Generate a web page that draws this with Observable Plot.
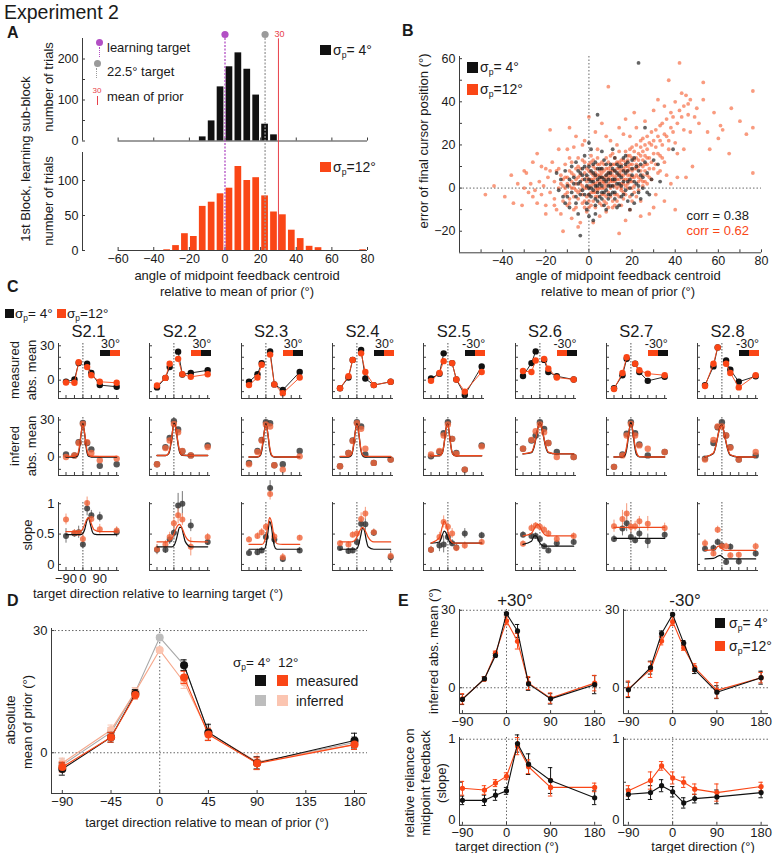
<!DOCTYPE html>
<html><head><meta charset="utf-8">
<script src="https://cdn.jsdelivr.net/npm/d3@7"></script>
<script src="https://cdn.jsdelivr.net/npm/@observablehq/plot@0.6"></script>
<style>
body{margin:0;background:#fff;}
#root{position:relative;width:773px;height:853px;overflow:hidden;font-family:"Liberation Sans",Arial,Helvetica,sans-serif;color:#1a1a1a;background:#fff;}
.lbl{position:absolute;white-space:nowrap;line-height:1;}
.lbl sub{font-size:62%;vertical-align:-0.35em;line-height:0;}
.sq{position:absolute;}
</style></head><body><div id="root"></div>
<script>
// ---------------- DATA ----------------
// Panel A: histograms (bin start, width 5)
const histBinWidth = 5;
const histBins4 = [-15,-10,-5,0,5,10,15,20,25];
const histCounts4 = [10,49,132,181,215,175,112,41,15];
const histBins12 = [-35,-30,-25,-20,-15,-10,-5,0,5,10,15,20,25,30,35,40,45,50,75];
const histCounts12 = [1,7,24,20,63,69,81,89,120,100,104,78,55,51,29,17,6,4,1];
const histTicksA = [-60,-40,-20,0,20,40,60,80];
const refTargetsA = [0, 22.5];        // learning target, 22.5 deg target
const priorMeanA = 30;

// Panel B: scatter [angle of midpoint feedback centroid, error of final cursor position]
const scatter12 = [
[-48,-3],[-44,1],[-39,-4],[-36,6],[-35,-7],[-33,2],[-31,-8],[-30,8],[-30,0],[-29,7],[-28,-2],[-27,2],[-26,12],[-26,-4],[-25,-1],[-24,16],[-24,-7],[-23,3],[-22,-3],[-22,10],[-21,1],[-20,9],[-20,-8],[-20,-12],[-19,5],[-18,27],[-18,-2],[-18,8],[-17,12],[-16,-5],[-16,3],[-16,-8],[-15,8],[-15,-10],[-14,18],[-14,0],[-14,9],[-13,-12],[-13,6],[-13,2],[-12,-20],[-12,4],[-12,-6],[-11,-3],[-11,11],[-11,0],[-10,-8],[-10,2],[-10,5],[-10,18],[-9,28],[-9,14],[-9,-5],[-9,1],[-8,7],[-8,-14],[-8,3],[-7,0],[-7,19],[-7,-4],[-6,-9],[-6,4],[-6,-1],[-6,24],[-5,10],[-5,-2],[-5,5],[-5,-18],[-4,-16],[-4,6],[-4,2],[-3,1],[-3,13],[-3,-7],[-3,20],[-2,-6],[-2,22],[-2,0],[-1,3],[-1,-11],[-1,9],[0,33],[0,8],[0,-3],[0,1],[0,-6],[1,15],[1,-8],[1,4],[1,12],[2,2],[2,10],[2,-2],[2,6],[2,-16],[3,-4],[3,5],[3,7],[3,-9],[3,26],[4,18],[4,-1],[4,3],[4,11],[5,8],[5,-13],[5,0],[5,4],[6,3],[6,12],[6,-3],[6,7],[6,30],[7,-6],[7,0],[7,3],[8,6],[8,24],[8,1],[8,-4],[8,-11],[9,47],[9,-2],[9,5],[9,9],[10,10],[10,3],[10,0],[10,6],[10,22],[11,-9],[11,16],[11,3],[11,8],[12,5],[12,-3],[12,1],[12,11],[13,9],[13,20],[13,4],[13,-6],[14,1],[14,-21],[14,7],[14,12],[14,28],[15,13],[15,6],[15,2],[15,-1],[16,-5],[16,25],[16,9],[16,4],[17,8],[17,32],[17,-3],[17,12],[17,-15],[18,2],[18,15],[18,6],[18,10],[19,-10],[19,11],[19,3],[19,15],[19,24],[20,5],[20,19],[20,8],[20,0],[21,-2],[21,9],[21,13],[21,35],[22,28],[22,14],[22,6],[22,-4],[23,3],[23,10],[23,16],[24,22],[24,-6],[24,4],[24,-13],[25,10],[25,17],[25,13],[25,3],[26,31],[26,8],[26,20],[27,6],[27,24],[27,11],[28,14],[28,-12],[29,20],[29,4],[30,36],[30,9],[30,-9],[31,27],[31,-3],[32,41],[32,16],[33,22],[33,8],[34,30],[34,14],[35,12],[35,38],[35,-6],[36,24],[36,6],[37,50],[37,18],[38,28],[38,2],[39,33],[40,21],[40,40],[40,-10],[41,5],[41,16],[42,58],[42,36],[43,44],[44,27],[44,18],[45,43],[45,5],[46,39],[47,41],[47,26],[48,10],[49,33],[50,37],[51,30],[53,49],[53,41],[55,26],[56,18],[58,35],[60,23],[61,29],[62,27],[65,16],[66,37],[70,31],[73,25],[76,45],[76,28],[76,7],
[-12,1],[-11,5],[-10,-2],[-9,8],[-9,-7],[-8,0],[-8,12],[-7,6],[-7,-10],[-6,2],[-6,9],[-5,-5],[-5,14],[-4,-1],[-4,9],[-3,4],[-3,-3],[-2,7],[-2,-9],[-2,12],[-1,0],[-1,5],[-1,-4],[0,4],[0,11],[0,-9],[1,1],[1,7],[1,-2],[2,4],[2,13],[2,-6],[3,0],[3,9],[3,2],[3,-2],[4,6],[4,-4],[4,14],[4,0],[5,2],[5,11],[5,-7],[5,6],[6,0],[6,5],[6,9],[6,-8],[7,2],[7,8],[7,-3],[7,11],[7,5],[8,4],[8,9],[8,-7],[8,14],[9,2],[9,7],[9,-9],[9,12],[10,4],[10,-4],[10,8],[10,15],[11,1],[11,6],[11,11],[11,-6],[12,3],[12,8],[12,-8],[12,14],[13,0],[13,6],[13,12],[13,-3],[14,4],[14,9],[14,-4],[14,17],[15,0],[15,8],[15,11],[15,-8],[16,2],[16,6],[16,13],[16,-2],[17,4],[17,10],[17,1],[17,17],[18,0],[18,8],[18,4],[18,13],[19,6],[19,9],[19,-4],[19,18],[20,3],[20,11],[20,14],[20,-6],[21,5],[21,1],[21,17],[22,9],[22,11],[22,20],[23,5],[23,13],[23,-1],[24,8],[24,15],[24,19],[25,6],[25,1],[25,23],[26,11],[26,15],[26,3],[27,14],[27,18],[27,2],[28,9],[28,21],[28,5],[29,12],[29,26],[30,16],[30,22],[31,11],[31,19],[32,24],[32,7],[33,29],[33,15],[34,20],[35,25],[36,32],[37,22],[38,35],[39,26],[41,30],[43,33],[44,38],[46,34]
];
const scatter4 = [
[23,58],[4,34],[0,21],[26,28],[39,18],[32,11],[27,-2],[21,-7],[-4,-22],[0,-13],[-6,-4],[-5,2],[-4,7],[-3,-1],[-2,4],[-1,-7],[0,0],[0,10],[1,3],[1,-4],[2,7],[2,-1],[3,1],[3,12],[4,-6],[4,4],[5,2],[5,9],[6,-2],[6,5],[7,13],[7,-8],[8,3],[8,-1],[9,7],[9,-5],[10,1],[10,11],[11,4],[11,-2],[12,8],[12,14],[13,-9],[13,2],[14,6],[15,-4],[15,10],[16,3],[16,14],[17,-1],[17,7],[18,12],[18,-6],[19,4],[20,9],[20,-3],[21,14],[22,2],[23,8],[24,-5],[25,5],[26,12],[-8,-2],[-7,5],[-9,-9],[-10,1],[-12,-4],[-11,8],[-14,-1],[-13,4],[-6,12],[-2,15],[3,-12],[8,-10],[14,-8],[19,-10],[24,11],[29,4],[28,-3],[-1,-10],[6,17],[11,18],[-5,-12],[2,-15],[9,-3],[13,11],[4,9],[-3,9],[1,18],[-8,10],[17,15],[23,1],[27,7],
[-7,2],[-6,-7],[-4,-3],[-4,3],[-3,6],[-2,-3],[-1,1],[-1,6],[0,-3],[0,4],[1,8],[1,0],[2,3],[2,11],[3,-5],[3,6],[4,1],[4,-2],[5,5],[5,-4],[6,1],[6,9],[7,4],[7,-2],[8,6],[8,11],[9,1],[9,4],[10,-3],[10,7],[11,9],[11,1],[12,4],[12,-5],[13,7],[14,2],[14,10],[15,5],[15,1],[16,8],[16,-3],[17,11],[18,3],[18,8],[19,0],[20,6],[21,3],[22,10],[23,-2],[24,6],[-9,4],[-10,-4],[-5,8],[-2,10],[3,-8],[6,-5],[12,-2],[20,13],[25,0],[-11,-7],[-15,7],[30,13],[33,3]
];
const corrLabels = ["corr = 0.38", "corr = 0.62"];

// Panel C: per-subject data (target directions relative to learning target)
const subjects = ["S2.1","S2.2","S2.3","S2.4","S2.5","S2.6","S2.7","S2.8"];
const subjectShift = ["30°","30°","30°","30°","-30°","-30°","-30°","-30°"];
const badgeOrder = [["k","o"],["o","k"],["o","k"],["k","o"],["k","o"],["o","k"],["o","k"],["k","o"]];
const cX = [-90,-45,-22.5,0,22.5,45,90,180];
const measured4 = [
[-1.4,0.6,15,null,14.3,6.3,-4.3,-5.7],
[-6.3,2,11.4,null,24.9,5,6.3,8.6],
[-1.4,5.1,14.9,null,25.1,-3.7,-8.6,7.1],
[-7.1,2.3,17.7,null,26.3,1.4,-4.3,-1.4],
[1.4,5.7,23.4,null,14.9,0.6,-12.9,12],
[3.7,14.9,25.1,null,17.7,7.1,3.4,0.6],
[-7.1,4.3,18.6,null,14.3,7.1,-0.6,2.9],
[-4.3,12,28.6,null,17.1,9.1,-1.4,3.4]];
const measured12 = [
[-2,-2.3,15.7,null,11.4,4.3,-1.4,-2.3],
[-4.6,2,14.3,null,18.6,5.1,2.9,5.1],
[-4.3,2.3,13.4,null,22.3,-3.7,-11.4,2.3],
[-7.1,3.4,17.7,null,23.4,7.1,-4.3,-1.4],
[-0.6,6.3,16.6,null,14.9,0.6,-10,7.1],
[8,7.1,17.1,null,18.6,10,2.3,0.6],
[-7.7,6.3,20,null,14.3,8.6,5.7,4.3],
[-5.1,14.3,28.6,null,14.3,6.3,-6.3,4.3]];
const inferred4 = [
[2.1,1.3,12,27.6,11.3,6.2,-7.2,-5.9],
[-5.9,8,15.5,29,22.3,4.6,1.3,9.4],
[-4.8,4.8,13.9,28.2,27.3,-6.7,-5.9,4.8],
[-7.5,3.2,13.4,28.2,24.7,2.1,-4.8,-2.1],
[0.5,4,19.3,28.2,14.7,3.2,-10.2,9.4],
[6.7,13.4,17.4,28.2,22.8,11.3,4,0],
[-8,2.1,18.8,28.2,19.3,10.2,1.3,4],
[-1.3,11.3,24.1,28.2,17.4,8,-2.1,1.3]];
const inferred12 = [
[0,1.3,11.3,26.8,12,3.2,-2.7,-1.3],
[-5.9,7.2,13.4,26.8,20,4.8,1.3,8],
[-5.9,4,13.4,26.3,24.7,-6.7,-10.2,0.5],
[-7.5,3.2,12.9,27.3,22.8,6.7,-4.8,-2.1],
[2.1,4.8,17.4,26.3,14.7,2.7,-10.2,8.6],
[6.7,13.9,20.9,26.3,20.1,11.3,0,0],
[-8,1.3,17.4,26.8,17.4,9.4,6.7,4],
[-2.1,13.9,24.7,24.7,17.4,7.5,-2.1,4]];
const infFitX = [-90,-45,-30,-20,-10,0,10,20,30,45,90,180];
const infFit4 = [
[0,0,0.6,5.2,17.8,27,17.8,5.2,0.6,0,0,0],
[1.2,1.2,2.3,6.8,17.5,27.3,24.2,12.5,4.3,1.4,1.2,1.2],
[0,0,1.2,6.7,19.2,27,19.2,6.7,1.2,0,0,0],
[0,0,1.2,6.7,19.2,27,19.2,6.7,1.2,0,0,0],
[1,1,3.1,10.8,23.3,26.7,15.8,5.2,1.6,1,1,1],
[2.5,3.6,8.7,16,23.9,27.5,23.9,16,8.7,3.6,2.5,2.5],
[0,0.1,1.9,8.7,20.8,28,20.8,8.7,1.9,0.1,0,0],
[0,2.9,10.4,18.2,24.4,25.7,21,13.4,6.7,1.5,0,0]];
const infFit12 = [
[0.5,0.6,1.6,6.9,18.6,26,18.6,6.9,1.6,0.6,0.5,0.5],
[1.2,1.2,2.8,7.9,18,26.4,23.9,13.6,5.2,1.5,1.2,1.2],
[0,0.1,1.8,8.1,19.3,26,19.3,8.1,1.8,0.1,0,0],
[0.5,0.5,1.9,7.6,19.1,26,19.1,7.6,1.9,0.5,0.5,0.5],
[1,1.1,3.3,11,23,26.3,15.6,5.2,1.6,1,1,1],
[2.5,4,9.6,16.5,23.8,27,23.8,16.5,9.6,4,2.5,2.5],
[0,0.3,3.6,10.9,21.2,26.5,21.2,10.9,3.6,0.3,0,0],
[0.1,3.3,10.8,18.3,24,25.3,20.8,13.6,7.2,1.8,0,0]];
const slope4 = [
[.47,.51,.53,.33,.92,.81,.78,.53],
[.24,.24,.41,.52,.97,1.0,.64,.37],
[.19,.2,.23,.45,1.26,.41,.09,.23],
[.27,.22,.23,.37,.67,.66,.52,.12],
[.24,.31,.33,.45,.35,.28,.51,.48],
[.49,.47,.47,.42,.30,.23,.35,.37],
[.42,.59,.68,.45,.40,.51,.38,.49],
[.26,.27,.37,.31,.04,.29,.05,.18]];
const slope12 = [
[.74,.52,.52,.42,1.01,.75,.58,.56],
[.25,.33,.45,.68,.81,.74,.29,.45],
[.41,.47,.53,.62,1.16,.46,.12,.44],
[.35,.33,.49,.51,.75,.84,.53,.14],
[.24,.45,.70,.62,.51,.27,.31,.37],
[.34,.60,.64,.62,.57,.51,.42,.47],
[.63,.75,.84,.62,.63,.71,.67,.60],
[.35,.18,.57,.30,.30,.15,.16,.30]];
const slopeErr4 = [
[.12,.06,.1,.06,.12,.08,.08,.08],[.08,.06,.08,.1,.2,.2,.1,.06],[.05,.05,.05,.06,.12,.08,.06,.05],[.05,.05,.05,.06,.08,.1,.06,.1],
[.05,.1,.14,.08,.06,.06,.08,.05],[.05,.05,.05,.05,.05,.04,.05,.05],[.06,.12,.14,.1,.06,.1,.12,.08],[.05,.05,.05,.05,.05,.05,.06,.06]];
const slopeErr12 = [
[.09,.05,.06,.1,.1,.06,.08,.06],[.08,.06,.08,.1,.14,.1,.15,.06],[.05,.05,.06,.06,.1,.06,.06,.04],[.04,.04,.05,.05,.1,.1,.05,.05],
[.06,.08,.1,.08,.08,.06,.06,.05],[.05,.06,.05,.06,.06,.05,.05,.05],[.1,.14,.16,.1,.08,.08,.12,.08],[.06,.05,.06,.05,.05,.04,.04,.05]];
const slopeFitX = [-90,-45,-30,-20,-10,0,10,20,30,40,50,60,90,180];
const slopeFit4 = [
[.49,.49,.49,.49,.49,.51,.58,.71,.77,.66,.54,.50,.49,.49],
[.29,.29,.29,.29,.29,.31,.38,.50,.61,.61,.50,.38,.29,.29],
[.25,.25,.25,.25,.25,.31,.51,.71,.61,.37,.27,.25,.25,.25],
[.25,.25,.25,.25,.25,.26,.33,.47,.60,.56,.40,.29,.25,.25],
[.35,.37,.48,.55,.52,.43,.37,.35,.35,.35,.35,.35,.35,.35],
[.33,.38,.47,.47,.42,.35,.32,.30,.30,.30,.30,.30,.30,.30],
[.43,.43,.43,.43,.43,.43,.43,.43,.43,.43,.43,.43,.43,.43],
[.09,.10,.12,.14,.15,.13,.10,.09,.09,.09,.09,.09,.09,.09]];
const slopeFit12 = [
[.54,.54,.54,.54,.55,.59,.66,.74,.77,.71,.63,.57,.54,.54],
[.37,.37,.38,.40,.43,.50,.58,.64,.66,.62,.55,.47,.38,.37],
[.33,.33,.33,.33,.36,.46,.63,.77,.70,.52,.39,.34,.33,.33],
[.37,.37,.37,.38,.40,.45,.52,.58,.61,.58,.52,.45,.37,.37],
[.35,.44,.62,.71,.67,.54,.43,.37,.35,.35,.35,.35,.35,.35],
[.47,.51,.59,.64,.66,.62,.56,.51,.48,.47,.47,.47,.47,.47],
[.61,.61,.61,.61,.61,.61,.61,.61,.61,.61,.61,.61,.61,.61],
[.23,.24,.27,.30,.29,.26,.24,.23,.23,.23,.23,.23,.23,.23]];
const cXTicks = [-90,-45,0,45,90,135,180];

// Panel D
const dX = [-90,-45,-22.5,0,22.5,45,90,180];
const dMeas4 = [-4,3.8,14.5,null,21.5,5,-2.5,3];
const dMeas12 = [-3.5,3.8,14.2,null,18.5,4.5,-2.6,2];
const dInf4 = [-3,5,15,28.3,21.5,5,-2.4,2.5];
const dInf12 = [-2.5,5.6,15,25.2,17.3,4.8,-2.2,2];
const dMeasErr4 = [1.5,1.2,1,null,1.3,2,1.5,1.8];
const dMeasErr12 = [1.2,1.2,1,null,1.5,1.5,1.5,1.2];
const dInfErr4 = [1.5,1.2,1,0.5,1.3,1.8,1.5,1.5];
const dInfErr12 = [1.2,1.2,1,0.6,1.5,1.5,2,1.2];
const dXTicks = [-90,-45,0,45,90,135,180];

// Panel E
const eX = [-90,-45,-22.5,0,22.5,45,90,180];
const eInfP4 = [-4.5,3.5,12.5,28.7,22,1.5,-4.3,1.2];
const eInfP12 = [-4.3,3.4,13.4,25.9,18,1.8,-4,1.8];
const eInfM4 = [-0.8,7.8,21,28.4,17.3,7,-1.7,3.9];
const eInfM12 = [-0.4,7,18.1,25.6,15.5,7.8,-1,3.9];
const eInfErrP4 = [2,0.8,0.8,0.5,2.5,2.5,2,3.5];
const eInfErrP12 = [2,0.8,0.8,1.5,3,2.5,2,3];
const eInfErrM4 = [3,2.5,1,0.5,1,1.5,2.5,2.5];
const eInfErrM12 = [3,3,1.5,1.5,1,1.5,3,2];
const eSlopeP4 = [.29,.29,.35,.40,.95,.71,.52,.32];
const eSlopeP12 = [.43,.41,.49,.57,.92,.68,.44,.44];
const eSlopeM4 = [.36,.38,.46,.39,.26,.31,.33,.38];
const eSlopeM12 = [.40,.52,.69,.55,.50,.42,.38,.45];
const eSlopeErrP4 = [.05,.06,.06,.04,.1,.12,.15,.08];
const eSlopeErrP12 = [.08,.05,.04,.04,.1,.08,.1,.05];
const eSlopeErrM4 = [.06,.08,.07,.06,.06,.05,.08,.06];
const eSlopeErrM12 = [.06,.1,.05,.07,.06,.06,.1,.05];
const eXTicks = [-90,0,90,180];

// ---------------- DRAWING ----------------
const K = "#111111", OR = "#fa4616", AX = "#3c3c3c";
const FONT = '"Liberation Sans", Arial, Helvetica, sans-serif';
const root = document.getElementById("root");
const fmt = d => (d < 0 ? "\u2212" : "") + Math.abs(d);
const noLabel = () => "";
const DOT = {stroke: "#666", strokeDasharray: "1.5,2", strokeWidth: 1};

function place(node, x, y) { node.style.position = "absolute"; node.style.left = x + "px"; node.style.top = y + "px"; root.appendChild(node); }

function sub(o) {
  const ml = 48, mr = 16, mt = 16, mb = 30;
  const xl = new Set(o.xlabels || []), yl = new Set(o.ylabels || []);
  const marks = [...(o.marks || [])];
  if (!o.bare) {
    marks.push(
      Plot.ruleX([o.xd[0]], {stroke: AX}),
      Plot.ruleY([o.yd[0]], o.xspan ? {x1: o.xspan[0], x2: o.xspan[1], stroke: AX} : {stroke: AX}),
      Plot.axisX({ticks: o.xticks, tickSize: -3, tickPadding: o.xpad ?? 6.5, tickFormat: d => xl.has(d) ? fmt(d) : "", label: null, stroke: AX}),
      Plot.axisY({ticks: o.yticks, tickSize: -3, tickPadding: 7, tickFormat: noLabel, label: null, stroke: AX})
    );
    const ylab = o.yticks.filter(d => yl.has(d));
    const ylabMin = ylab.filter(d => d === o.yd[0]), ylabRest = ylab.filter(d => d !== o.yd[0]);
    if (ylabRest.length) marks.push(Plot.axisY({ticks: ylabRest, tickSize: 0, tickPadding: 4, tickFormat: fmt, label: null, stroke: "none"}));
    if (ylabMin.length) marks.push(Plot.axisY({ticks: ylabMin, tickSize: 0, tickPadding: 4, dy: o.ydy || 0, tickFormat: fmt, label: null, stroke: "none"}));
  }
  const p = Plot.plot({
    width: o.fw + ml + mr, height: o.fh + mt + mb,
    marginLeft: ml, marginRight: mr, marginTop: mt, marginBottom: mb,
    x: {domain: o.xd, axis: o.bare ? null : undefined},
    y: {domain: o.yd, axis: o.bare ? null : undefined},
    style: {fontFamily: FONT, fontSize: (o.fs || 12) + "px", color: "#1a1a1a", background: "transparent", overflow: "visible"},
    marks
  });
  place(p, o.fx - ml, o.fy - mt);
  return p;
}

function txt(s, x, y, opt = {}) {
  const d = document.createElement("div");
  d.className = "lbl";
  d.innerHTML = s;
  d.style.fontSize = (opt.size || 13) + "px";
  d.style.color = opt.color || "#1a1a1a";
  if (opt.bold) d.style.fontWeight = "bold";
  d.style.left = x + "px"; d.style.top = y + "px";
  const a = opt.anchor || "start";
  const tx = a === "middle" ? "-50%" : a === "end" ? "-100%" : "0";
  d.style.transform = `translate(${tx},-50%)` + (opt.rotate ? ` rotate(${opt.rotate}deg)` : "");
  root.appendChild(d);
}
function sq(x, y, w, h, c, extra = "") {
  const d = document.createElement("div");
  d.className = "sq";
  d.style.cssText = `left:${x}px;top:${y}px;width:${w}px;height:${h}px;background:${c};${extra}`;
  root.appendChild(d);
}
const SIG = "σ<sub>p</sub>";

// ---- Title & panel letters
txt("Experiment 2", 4, 13, {size: 19.5});
txt("A", 7, 33, {size: 16, bold: true});
txt("B", 402, 31, {size: 16, bold: true});
txt("C", 7, 287, {size: 16, bold: true});
txt("D", 7, 601, {size: 16, bold: true});
txt("E", 398, 601, {size: 16, bold: true});

// ---- Panel A
const histRows4 = histBins4.map((s, i) => ({x1: s, x2: s + histBinWidth, y: histCounts4[i]}));
const histRows12 = histBins12.map((s, i) => ({x1: s, x2: s + histBinWidth, y: histCounts12[i]}));
sub({fx: 82, fy: 37.5, fw: 285, fh: 102.5, xd: [-80, 80], yd: [0, 250], xspan: d3.extent(histTicksA),
  xticks: histTicksA, xlabels: [], yticks: [0,50,100,150,200], ylabels: [0,100,200], fs: 12.5,
  marks: [Plot.rectY(histRows4, {x1: "x1", x2: "x2", y: "y", fill: K, insetLeft: 1.1, insetRight: 1.1})]});
sub({fx: 82, fy: 152, fw: 285, fh: 98, xd: [-80, 80], yd: [0, 140], xspan: d3.extent(histTicksA),
  xticks: histTicksA, xlabels: histTicksA, yticks: [0,50,100], ylabels: [0,50,100], fs: 12.5,
  marks: [Plot.rectY(histRows12, {x1: "x1", x2: "x2", y: "y", fill: OR, insetLeft: 1.1, insetRight: 1.1})]});
// overlay reference lines across both histograms
sub({fx: 82, fy: 34, fw: 285, fh: 216, xd: [-80, 80], yd: [0, 1], bare: true, marks: [
  Plot.ruleX([refTargetsA[0]], {y1: 0, y2: 1, stroke: "#b24fc4", strokeDasharray: "2,1.5", strokeWidth: 1.3}),
  Plot.ruleX([refTargetsA[1]], {y1: 0, y2: 1, stroke: "#9a9a9a", strokeDasharray: "2,1.5", strokeWidth: 1.3}),
  Plot.ruleX([priorMeanA], {y1: 0, y2: 0.98, stroke: "#e8404a", strokeWidth: 1}),
  Plot.dot([refTargetsA[0]], {x: d => d, y: 1, r: 3.6, fill: "#b24fc4"}),
  Plot.dot([refTargetsA[1]], {x: d => d, y: 1, r: 3.6, fill: "#9a9a9a"}),
  Plot.text([priorMeanA], {x: d => d, y: 1, text: d => String(d), fill: "#e8404a", fontSize: 9, dx: 1, textAnchor: "middle"})
]});
// A legend
sq(96.3, 38.5, 7, 7, "#b24fc4", "border-radius:50%;");
sq(99, 47, 0, 10, "transparent", "border-left:1.5px dotted #b24fc4;");
sq(93.5, 59.5, 7, 7, "#9a9a9a", "border-radius:50%;");
sq(96.2, 68, 0, 10, "transparent", "border-left:1.5px dotted #9a9a9a;");
txt("30", 97, 91, {size: 8, color: "#e8404a", anchor: "middle"});
sq(97, 96, 0, 9, "transparent", "border-left:1px solid #e8404a;");
txt("learning target", 107, 46.5, {size: 13});
txt("22.5° target", 107, 70.5, {size: 13});
txt("mean of prior", 107, 95.5, {size: 13});
sq(320, 45, 11, 10, K);
txt(SIG + "= 4°", 333, 50, {size: 14});
sq(320, 162, 11, 10, OR);
txt(SIG + "=12°", 333, 167, {size: 14});
txt("1st Block, learning sub-block", 25, 159, {size: 13, anchor: "middle", rotate: -90});
txt("number of trials", 48, 87, {size: 13, anchor: "middle", rotate: -90});
txt("number of trials", 48, 201, {size: 13, anchor: "middle", rotate: -90});
txt("angle of midpoint feedback centroid", 237, 275, {size: 13, anchor: "middle"});
txt("relative to mean of prior (°)", 237, 291, {size: 13, anchor: "middle"});

// ---- Panel B
sub({fx: 459, fy: 55.7, fw: 302, fh: 196.3, xd: [-60, 80], yd: [-30, 61], fs: 12.5,
  xticks: [-50,-40,-30,-20,-10,0,10,20,30,40,50,60,70,80], xlabels: [-40,-20,0,20,40,60,80],
  yticks: [-20,-10,0,10,20,30,40,50,60], ylabels: [-20,0,20,40,60],
  marks: [
    Plot.ruleX([0], DOT), Plot.ruleY([0], DOT),
    Plot.dot(scatter12, {x: d => d[0], y: d => d[1], r: 1.9, fill: "#f5582a", fillOpacity: 0.6}),
    Plot.dot(scatter4, {x: d => d[0], y: d => d[1], r: 1.9, fill: "#222", fillOpacity: 0.7})
  ]});
sq(467, 62, 11, 11, K); txt(SIG + "= 4°", 480, 67, {size: 14});
sq(467, 84, 11, 11, OR); txt(SIG + "=12°", 480, 89, {size: 14});
txt(corrLabels[0], 749, 215, {size: 13, anchor: "end"});
txt(corrLabels[1], 749, 230, {size: 13, anchor: "end", color: OR});
txt("error of final cursor position (°)", 423, 141, {size: 13, anchor: "middle", rotate: -90});
txt("angle of midpoint feedback centroid", 618, 275, {size: 13, anchor: "middle"});
txt("relative to mean of prior (°)", 618, 291, {size: 13, anchor: "middle"});

// ---- Panel C
sq(5, 309, 9, 9, K); txt(SIG + "= 4°", 15, 313.5, {size: 13.5});
sq(57, 309, 9, 9, OR); txt(SIG + "=12°", 67, 313.5, {size: 13.5});
txt("measured", 14, 370, {size: 13, anchor: "middle", rotate: -90});
txt("abs. mean", 31, 370, {size: 13, anchor: "middle", rotate: -90});
txt("infered", 14, 446, {size: 13, anchor: "middle", rotate: -90});
txt("abs. mean", 31, 446, {size: 13, anchor: "middle", rotate: -90});
txt("slope", 27, 535, {size: 13, anchor: "middle", rotate: -90});
txt("target direction relative to learning target (°)", 158, 593, {size: 13, anchor: "middle"});

const CK = "#3a3a3a", CO = "#f0643a";
subjects.forEach((name, i) => {
  const fx = 58 + i * 91.3, fw = 61;
  const first = i === 0;
  const meas = cX.map((x, j) => ({x, k: measured4[i][j], o: measured12[i][j]}));
  sub({fx, fy: 343, fw, fh: 55, xd: [-130, 195], yd: [-16, 32], xticks: cXTicks, xlabels: [],
    yticks: [-10,0,10,20,30], ylabels: first ? [0,30] : [], fs: 13,
    marks: [
      Plot.ruleX([0], {stroke: "#555", strokeDasharray: "1.5,1.5"}),
      Plot.line(meas, {x: "x", y: "k", stroke: K, strokeWidth: 0.9}),
      Plot.dot(meas, {x: "x", y: "k", r: 3.2, fill: K}),
      Plot.line(meas, {x: "x", y: "o", stroke: OR, strokeWidth: 0.9}),
      Plot.dot(meas, {x: "x", y: "o", r: 3.2, fill: OR})
    ]});
  const inf = cX.map((x, j) => ({x, k: inferred4[i][j], o: inferred12[i][j]}));
  const fit = infFitX.map((x, j) => ({x, k: infFit4[i][j], o: infFit12[i][j]}));
  sub({fx, fy: 417, fw, fh: 58, xd: [-130, 195], yd: [-15, 32], xticks: cXTicks, xlabels: [],
    yticks: [-10,0,10,20,30], ylabels: first ? [0,30] : [], fs: 13,
    marks: [
      Plot.ruleX([0], {stroke: "#555", strokeDasharray: "1.5,1.5"}),
      Plot.dot(inf, {x: "x", y: "k", r: 3.2, fill: CK, fillOpacity: 0.85}),
      Plot.dot(inf, {x: "x", y: "o", r: 3.2, fill: CO, fillOpacity: 0.8}),
      Plot.line(fit, {x: "x", y: "k", stroke: K, strokeWidth: 1.3, curve: "monotone-x"}),
      Plot.line(fit, {x: "x", y: "o", stroke: "#ee4a1e", strokeWidth: 1.3, curve: "monotone-x"})
    ]});
  const sl = cX.map((x, j) => ({x, k: slope4[i][j], o: slope12[i][j], ek: slopeErr4[i][j], eo: slopeErr12[i][j]}));
  const sfit = slopeFitX.map((x, j) => ({x, k: slopeFit4[i][j], o: slopeFit12[i][j]}));
  sub({fx, fy: 502, fw, fh: 68, xd: [-130, 195], yd: [-0.1, 1.02], xticks: cXTicks, xlabels: first ? [-90,0,90] : [],
    yticks: [0,0.5,1], ylabels: first ? [0,0.5,1] : [], fs: 13,
    marks: [
      Plot.ruleX([0], {stroke: "#555", strokeDasharray: "1.5,1.5"}),
      Plot.ruleX(sl, {x: "x", y1: d => d.k - d.ek, y2: d => d.k + d.ek, stroke: "#777", strokeWidth: 1}),
      Plot.ruleX(sl, {x: "x", y1: d => d.o - d.eo, y2: d => d.o + d.eo, stroke: "#f5997a", strokeWidth: 1}),
      Plot.dot(sl, {x: "x", y: "k", r: 3, fill: CK, fillOpacity: 0.85}),
      Plot.dot(sl, {x: "x", y: "o", r: 3, fill: CO, fillOpacity: 0.8}),
      Plot.line(sfit, {x: "x", y: "k", stroke: K, strokeWidth: 1.2, curve: "monotone-x"}),
      Plot.line(sfit, {x: "x", y: "o", stroke: "#ee4a1e", strokeWidth: 1.2, curve: "monotone-x"})
    ]});
  txt(name, fx + fw / 2, 331, {size: 16.5, anchor: "middle"});
  const right = fx + fw + 1;
  txt(subjectShift[i], right, 344, {size: 12.5, anchor: "end"});
  badgeOrder[i].forEach((c, j) => sq(right - 20 + j * 10, 350, 10, 5.5, c === "k" ? K : OR));
});

// ---- Panel D
const dRows = dX.map((x, j) => ({x, mk: dMeas4[j], mo: dMeas12[j], ik: dInf4[j], io: dInf12[j],
  emk: dMeasErr4[j], emo: dMeasErr12[j], eik: dInfErr4[j], eio: dInfErr12[j]}));
function errMarks(rows, y, e, color, cap, sw = 1) {
  const lo = d => d[y] == null ? NaN : d[y] - d[e], hi = d => d[y] == null ? NaN : d[y] + d[e];
  return [
    Plot.ruleX(rows, {x: "x", y1: lo, y2: hi, stroke: color, strokeWidth: sw}),
    Plot.ruleY(rows, {y: lo, x1: "x", x2: "x", insetLeft: -cap, insetRight: -cap, stroke: color, strokeWidth: sw}),
    Plot.ruleY(rows, {y: hi, x1: "x", x2: "x", insetLeft: -cap, insetRight: -cap, stroke: color, strokeWidth: sw})
  ];
}
const GR = "#bdbdbd", PK = "#fbc5b1";
sub({fx: 51, fy: 628, fw: 316, fh: 165, xd: [-100, 192], yd: [-10, 30.5],
  xticks: dXTicks, xlabels: dXTicks, yticks: [0, 30], ylabels: [0, 30], fs: 13,
  marks: [
    Plot.ruleY([30, 0], DOT), Plot.ruleX([0], DOT),
    ...errMarks(dRows, "ik", "eik", GR, 3),
    ...errMarks(dRows, "io", "eio", PK, 3),
    Plot.line(dRows, {x: "x", y: "ik", stroke: "#a8a8a8", strokeWidth: 1.1}),
    Plot.line(dRows, {x: "x", y: "io", stroke: "#f6a88c", strokeWidth: 1.1}),
    Plot.dot(dRows, {x: "x", y: "ik", r: 4, fill: GR}),
    Plot.dot(dRows, {x: "x", y: "io", r: 4, fill: PK}),
    ...errMarks(dRows, "mk", "emk", K, 3),
    ...errMarks(dRows, "mo", "emo", OR, 3),
    Plot.line(dRows, {x: "x", y: "mk", stroke: K, strokeWidth: 1.1}),
    Plot.line(dRows, {x: "x", y: "mo", stroke: OR, strokeWidth: 1.1}),
    Plot.dot(dRows, {x: "x", y: "mk", r: 4, fill: K}),
    Plot.dot(dRows, {x: "x", y: "mo", r: 4, fill: OR})
  ]});
txt(SIG + "= 4°&nbsp; 12°", 233, 663, {size: 13.5});
sq(255, 675, 11, 11, K); sq(277, 675, 11, 11, OR);
sq(255, 695, 11, 11, GR); sq(277, 695, 11, 11, PK);
txt("measured", 296, 680.5, {size: 14});
txt("inferred", 296, 700.5, {size: 14});
txt("absolute", 10, 720, {size: 13, anchor: "middle", rotate: -90});
txt("mean of prior (°)", 27, 722, {size: 13, anchor: "middle", rotate: -90});
txt("target direction relative to mean of prior (°)", 207, 822, {size: 13, anchor: "middle"});

// ---- Panel E
function ePanel(fx, fy, fw, fh, xd, yd, yt, yl, rowsK, rowsO, errK, errO, refY, xpad, ydy) {
  const rows = eX.map((x, j) => ({x, k: rowsK[j], o: rowsO[j], ek: errK[j], eo: errO[j]}));
  sub({fx, fy, fw, fh, xd, yd, xticks: eXTicks, xlabels: eXTicks, yticks: yt, ylabels: yl, fs: 13, xpad, ydy,
    marks: [
      Plot.ruleY(refY, DOT), Plot.ruleX([0], DOT),
      ...errMarks(rows, "k", "ek", K, 2.2),
      ...errMarks(rows, "o", "eo", OR, 2.2),
      Plot.line(rows, {x: "x", y: "o", stroke: OR, strokeWidth: 1.1}),
      Plot.dot(rows, {x: "x", y: "o", r: 2.6, fill: OR}),
      Plot.line(rows, {x: "x", y: "k", stroke: K, strokeWidth: 1.1}),
      Plot.dot(rows, {x: "x", y: "k", r: 2.6, fill: K})
    ]});
}
ePanel(459, 609.2, 143, 104.1, [-96, 196], [-10, 30.3], [0, 30], [0, 30], eInfP4, eInfP12, eInfErrP4, eInfErrP12, [30, 0]);
ePanel(623, 609.2, 145, 104.1, [-100, 195], [-10, 30.3], [0, 30], [0, 30], eInfM4, eInfM12, eInfErrM4, eInfErrM12, [30, 0]);
ePanel(459, 736.5, 143, 87.8, [-96, 196], [0, 1.02], [0, 0.5, 1], [0, 1], eSlopeP4, eSlopeP12, eSlopeErrP4, eSlopeErrP12, [1], 5.5, -5);
ePanel(623, 736.5, 145, 87.8, [-100, 195], [0, 1.02], [0, 0.5, 1], [0, 1], eSlopeM4, eSlopeM12, eSlopeErrM4, eSlopeErrM12, [1], 5.5, -5);
txt("+30°", 515, 600, {size: 17, anchor: "middle"});
txt("-30°", 685, 600, {size: 17, anchor: "middle"});
sq(715, 618, 10, 10, K); txt(SIG + "= 4°", 729, 623, {size: 14});
sq(715, 641, 10, 10, OR); txt(SIG + "=12°", 729, 646, {size: 14});
txt("inferred abs. mean (°)", 433, 651, {size: 13, anchor: "middle", rotate: -90});
txt("relative reliance on", 409, 783, {size: 13, anchor: "middle", rotate: -90});
txt("midpoint feedback", 425, 783, {size: 13, anchor: "middle", rotate: -90});
txt("(slope)", 441, 783, {size: 13, anchor: "middle", rotate: -90});
txt("target direction (°)", 507, 846, {size: 13, anchor: "middle"});
txt("target direction (°)", 703, 846, {size: 13, anchor: "middle"});
</script></body></html>
